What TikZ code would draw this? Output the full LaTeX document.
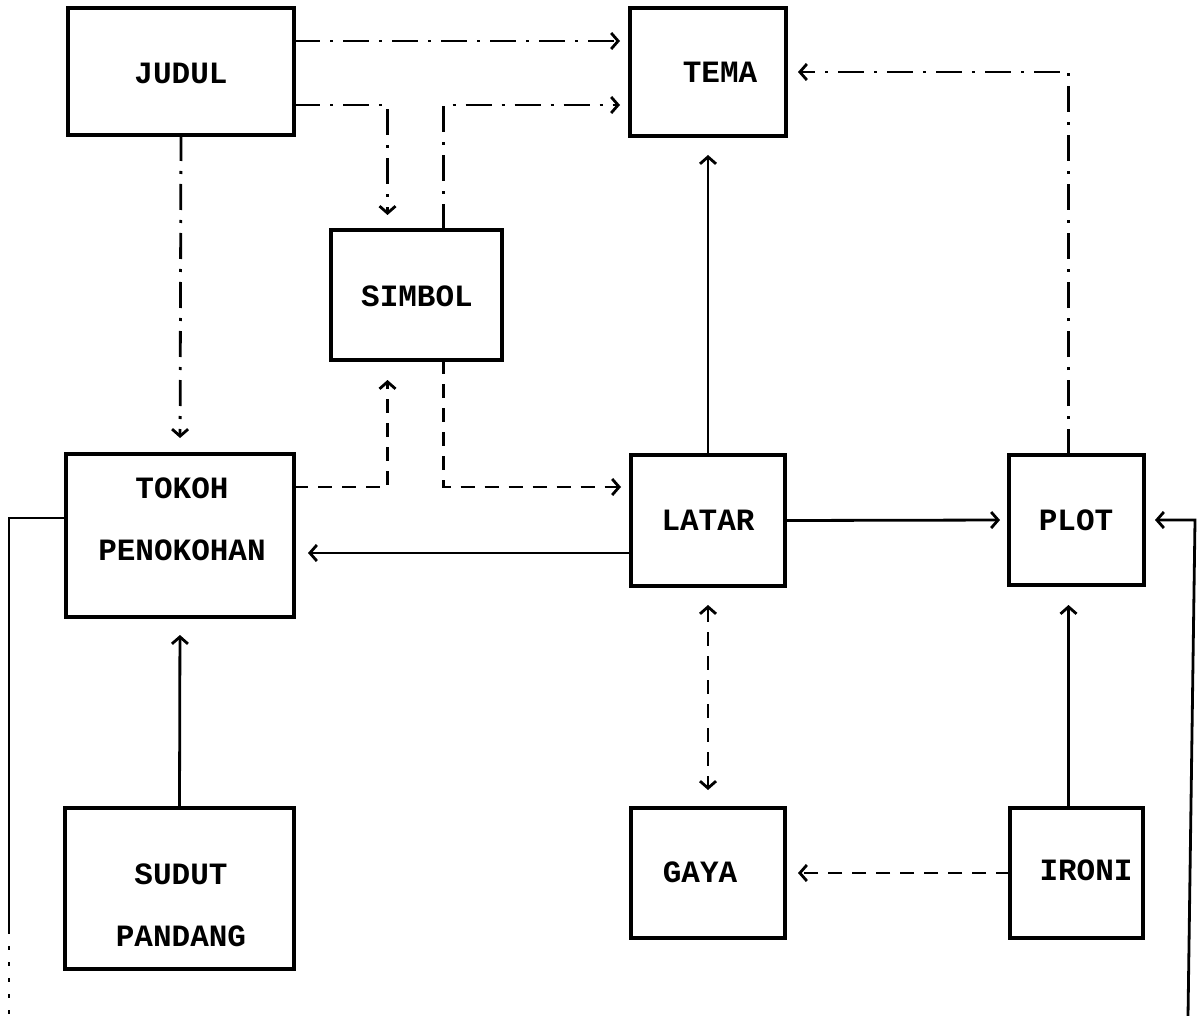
\documentclass[tikz,border=0pt]{standalone}
\usepackage{fontspec}
\setmonofont{Liberation Mono}
\usetikzlibrary{arrows.meta,calc}
\begin{document}
\begin{tikzpicture}[x=0.5pt,y=-0.5pt,
  box/.style={draw,line width=1.8pt,inner sep=0pt,outer sep=0pt},
  lbl/.style={font=\ttfamily\bfseries\fontsize{15.5}{31}\selectfont,align=center,inner sep=0pt},
  con/.style={line width=1.4pt},
  arr/.style={-{Straight Barb[length=3.5pt,width=8pt]}},
  biarr/.style={{Straight Barb[length=3.5pt,width=8pt]}-{Straight Barb[length=3.5pt,width=8pt]}},
  dd/.style={dash pattern=on 13pt off 5pt on 1.5pt off 5pt},
  ds/.style={dash pattern=on 7pt off 5pt}]
\useasboundingbox (0,0) rectangle (1204,1016);
\fill[white] (0,0) rectangle (1204,1016);

% boxes
\node[box,minimum width=113pt,minimum height=63.5pt] (judul) at (181,71.5) {};
\node[box,minimum width=78pt,minimum height=64pt] (tema) at (708,72) {};
\node[box,minimum width=85.5pt,minimum height=65pt] (simbol) at (416.5,295) {};
\node[box,minimum width=114pt,minimum height=81.5pt] (tokoh) at (180,535.5) {};
\node[box,minimum width=77pt,minimum height=65.5pt] (latar) at (708,520.5) {};
\node[box,minimum width=67.5pt,minimum height=65pt] (plot) at (1076.5,520) {};
\node[box,minimum width=114.5pt,minimum height=80.5pt] (sudut) at (179.5,888.5) {};
\node[box,minimum width=77pt,minimum height=65pt] (gaya) at (708,873) {};
\node[box,minimum width=66.5pt,minimum height=65pt] (ironi) at (1076.5,873) {};

% labels
\node[lbl] (tjudul) at (181,73) {JUDUL};
\node[lbl] (ttema) at (720,72) {TEMA};
\node[lbl] (tsimbol) at (417,296) {SIMBOL};
\node[lbl] (ttokoh) at (182,519) {TOKOH\\PENOKOHAN};
\node[lbl] (tlatar) at (708,520) {LATAR};
\node[lbl] (tplot) at (1076,520) {PLOT};
\node[lbl] (tsudut) at (181,905) {SUDUT\\PANDANG};
\node[lbl] (tgaya) at (700,872) {GAYA};
\node[lbl] (tironi) at (1086,870) {IRONI};

% free ends
\coordinate (lbot) at (9,1016);
\coordinate (rbot) at (1188,1016);

% dash-dot connectors
\draw[con,dd,arr,shorten >=5pt] (judul.east |- 0,41) -- (tema.west |- 0,41);
\draw[con,dd,arr,shorten >=7.5pt] (judul.east |- 0,105) -| ($(simbol.north)+(-29,0)$);
\draw[con,dd,arr,shorten >=5pt] ($(simbol.north)+(27,0)$) |- (tema.west |- 0,105);
\draw[con,dd,arr,shorten >=8pt] (judul.south) -- (tokoh.north);
\draw[con,dd,arr,shorten >=6pt] ($(plot.north)+(-8,0)$) |- (tema.east);

% dashed connectors
\draw[con,ds,arr,shorten >=10pt] (tokoh.east |- 0,487) -| ($(simbol.south)+(-29,0)$);
\draw[con,ds,arr,shorten >=5pt] ($(simbol.south)+(27,0)$) |- (latar.west |- 0,487);
\draw[con,ds,biarr,shorten <=9.5pt,shorten >=9pt] (latar.south) -- (gaya.north);
\draw[con,ds,arr,shorten >=6.5pt] (ironi.west) -- (gaya.east);

% solid connectors
\draw[con,arr,shorten >=7pt] (latar.west |- 0,553) -- (tokoh.east |- 0,553);
\draw[con,arr,shorten >=9.5pt] (latar.north) -- (tema.south);
\draw[con,arr,shorten >=4.5pt] (latar.east) -- (plot.west);
\draw[con,arr,shorten >=10pt] ($(ironi.north)+(-8,0)$) -- ($(plot.south)+(-8,0)$);
\draw[con,arr,shorten >=9pt] (sudut.north) -- (tokoh.south);

% long side lines
\draw[con] (tokoh.west |- 0,518) -- (9,518) -- (9,930);
\draw[con,dash pattern=on 2pt off 6pt] (9,930) -- (lbot);
\draw[con,arr,shorten >=5.5pt] (rbot) -- (1195,520) -- (plot.east);
\end{tikzpicture}
\end{document}
